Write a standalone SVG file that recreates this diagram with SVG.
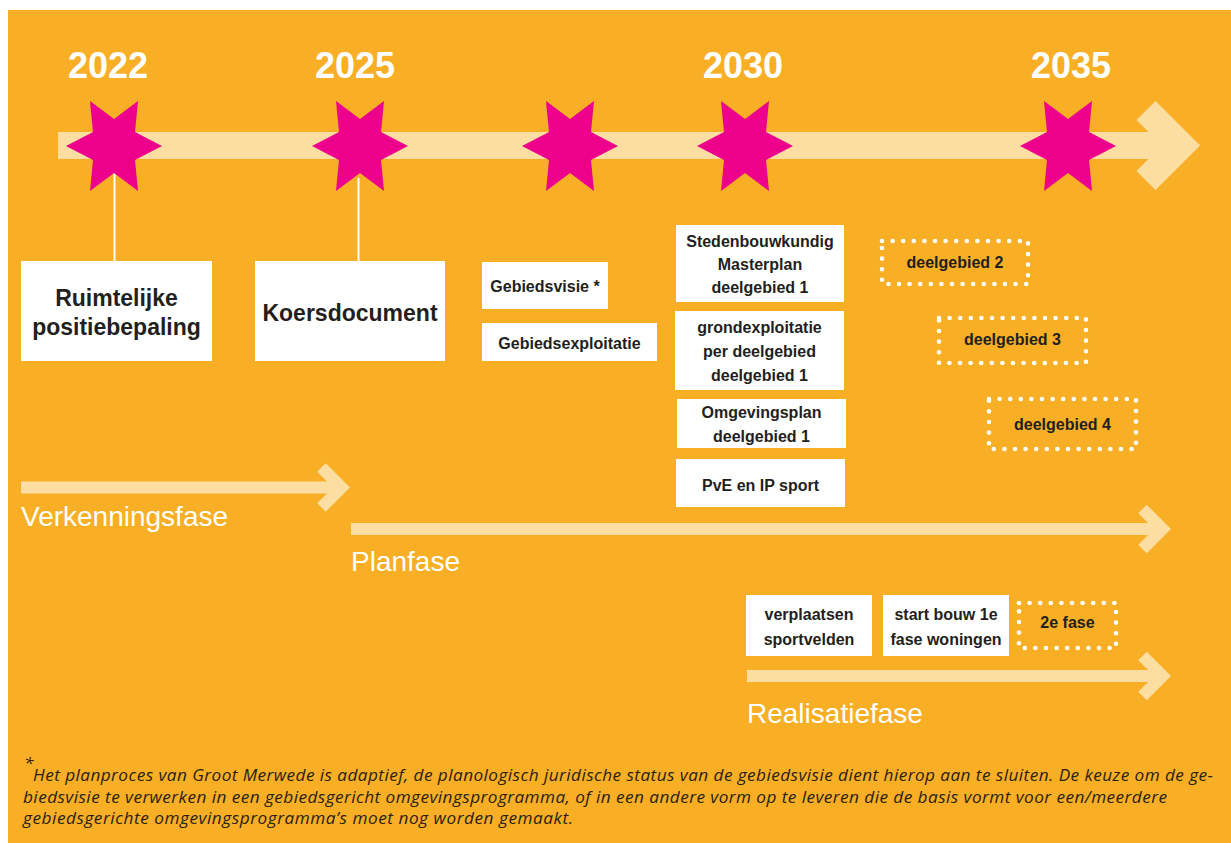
<svg xmlns="http://www.w3.org/2000/svg" xmlns:xlink="http://www.w3.org/1999/xlink" width="1231" height="843" viewBox="0 0 1231 843">
<style>
.bg{fill:#F8AF25}
.bar{fill:none;stroke:#FCDEA2;stroke-linejoin:miter;stroke-linecap:butt}
.star{fill:#EC008C}
.year{font-family:"Liberation Sans",Arial,sans-serif;font-weight:bold;font-size:36px;fill:#FFFFFF;text-anchor:middle}
.box{fill:#FFFFFF}
.dot{fill:none;stroke:#FFFFFF;stroke-width:4.6;stroke-linecap:round;stroke-dasharray:0 10.6}
.t{font-family:"Liberation Sans",Arial,sans-serif;font-weight:bold;font-size:16px;fill:#231F20;text-anchor:middle}
.tb{font-family:"Liberation Sans",Arial,sans-serif;font-weight:bold;font-size:23px;fill:#231F20;text-anchor:middle}
.phase{font-family:"Liberation Sans",Arial,sans-serif;font-size:28px;fill:#FFFFFF}
.foot{font-family:"Open Sans","Liberation Sans",sans-serif;font-style:italic;font-size:17.2px;fill:#2A2116}
.vl{stroke:#FFFFFF;stroke-width:2}
</style>
<defs>
<polygon id="star6" points="48,0 21,-14 24,-45 0,-27 -24,-45 -21,-14 -48,0 -21,14 -24,45 0,27 24,45 21,14"/>
</defs>
<rect class="bg" x="8" y="10" width="1223" height="833"/>
<g id="connectors">
<path class="bar" stroke-width="27" d="M58 145.5 H1175 M1146 110.5 L1181 145.5 L1146 180.5"/>
<path class="bar" stroke-width="12" d="M21 487.5 H338 M321.5 467.5 L341.5 487.5 L321.5 507.5"/>
<path class="bar" stroke-width="12" d="M351 529 H1158 M1142.5 509 L1162.5 529 L1142.5 549"/>
<path class="bar" stroke-width="12" d="M747 676 H1158 M1142.5 656 L1162.5 676 L1142.5 696"/>
<line class="vl" x1="114.5" y1="172" x2="114.5" y2="261"/>
<line class="vl" x1="358.5" y1="178" x2="358.5" y2="261"/>
</g>
<g id="milestone-2022"><text class="year" x="108" y="78">2022</text><use class="star" xlink:href="#star6" href="#star6" x="114" y="146"/></g>
<g id="milestone-2025"><text class="year" x="355" y="78">2025</text><use class="star" xlink:href="#star6" href="#star6" x="360" y="146"/></g>
<g id="milestone-mid"><use class="star" xlink:href="#star6" href="#star6" x="570" y="146"/></g>
<g id="milestone-2030"><text class="year" x="743" y="78">2030</text><use class="star" xlink:href="#star6" href="#star6" x="745" y="146"/></g>
<g id="milestone-2035"><text class="year" x="1071" y="78">2035</text><use class="star" xlink:href="#star6" href="#star6" x="1068" y="146"/></g>
<g id="ruimtelijke"><rect class="box" x="21" y="261" width="191" height="100"/><text class="tb" x="116.5" y="306">Ruimtelijke</text><text class="tb" x="116.5" y="335">positiebepaling</text></g>
<g id="koersdocument"><rect class="box" x="255" y="261" width="190" height="100"/><text class="tb" x="350" y="321">Koersdocument</text></g>
<g id="gebiedsvisie"><rect class="box" x="482" y="262" width="126" height="47"/><text class="t" x="545" y="292">Gebiedsvisie *</text></g>
<g id="gebiedsexploitatie"><rect class="box" x="482" y="323" width="175" height="38"/><text class="t" x="569.5" y="349">Gebiedsexploitatie</text></g>
<g id="masterplan"><rect class="box" x="676" y="225" width="168" height="77"/><text class="t" x="760" y="247">Stedenbouwkundig</text><text class="t" x="760" y="270">Masterplan</text><text class="t" x="760" y="293">deelgebied 1</text></g>
<g id="grondexploitatie"><rect class="box" x="675" y="311" width="169" height="79"/><text class="t" x="759.5" y="333">grondexploitatie</text><text class="t" x="759.5" y="357">per deelgebied</text><text class="t" x="759.5" y="381">deelgebied 1</text></g>
<g id="omgevingsplan"><rect class="box" x="677" y="399" width="169" height="49"/><text class="t" x="761.5" y="418">Omgevingsplan</text><text class="t" x="761.5" y="442">deelgebied 1</text></g>
<g id="pve"><rect class="box" x="676" y="459" width="169" height="48"/><text class="t" x="760.5" y="491">PvE en IP sport</text></g>
<g id="deelgebied2"><rect class="dot" x="882" y="241" width="146" height="43"/><text class="t" x="955" y="268">deelgebied 2</text></g>
<g id="deelgebied3"><rect class="dot" x="939" y="318" width="147" height="45"/><text class="t" x="1012.5" y="345">deelgebied 3</text></g>
<g id="deelgebied4"><rect class="dot" x="989" y="399" width="147" height="50"/><text class="t" x="1062.5" y="430">deelgebied 4</text></g>
<g id="verplaatsen"><rect class="box" x="746" y="595" width="126" height="61"/><text class="t" x="809" y="620">verplaatsen</text><text class="t" x="809" y="645">sportvelden</text></g>
<g id="startbouw"><rect class="box" x="883" y="595" width="126" height="61"/><text class="t" x="946" y="620">start bouw 1e</text><text class="t" x="946" y="645">fase woningen</text></g>
<g id="tweedefase"><rect class="dot" x="1019" y="603" width="97" height="45"/><text class="t" x="1067.5" y="628">2e fase</text></g>
<g id="phases">
<text class="phase" x="21" y="526">Verkenningsfase</text>
<text class="phase" x="351" y="571">Planfase</text>
<text class="phase" x="747" y="723">Realisatiefase</text>
</g>
<g id="footnote">
<text class="foot" x="24" y="769">*</text>
<text class="foot" x="33" y="781" textLength="1180" lengthAdjust="spacing">Het planproces van Groot Merwede is adaptief, de planologisch juridische status van de gebiedsvisie dient hierop aan te sluiten. De keuze om de ge-</text>
<text class="foot" x="23" y="803" textLength="1144" lengthAdjust="spacing">biedsvisie te verwerken in een gebiedsgericht omgevingsprogramma, of in een andere vorm op te leveren die de basis vormt voor een/meerdere</text>
<text class="foot" x="23" y="824" textLength="550" lengthAdjust="spacing">gebiedsgerichte omgevingsprogramma’s moet nog worden gemaakt.</text>
</g>
</svg>
